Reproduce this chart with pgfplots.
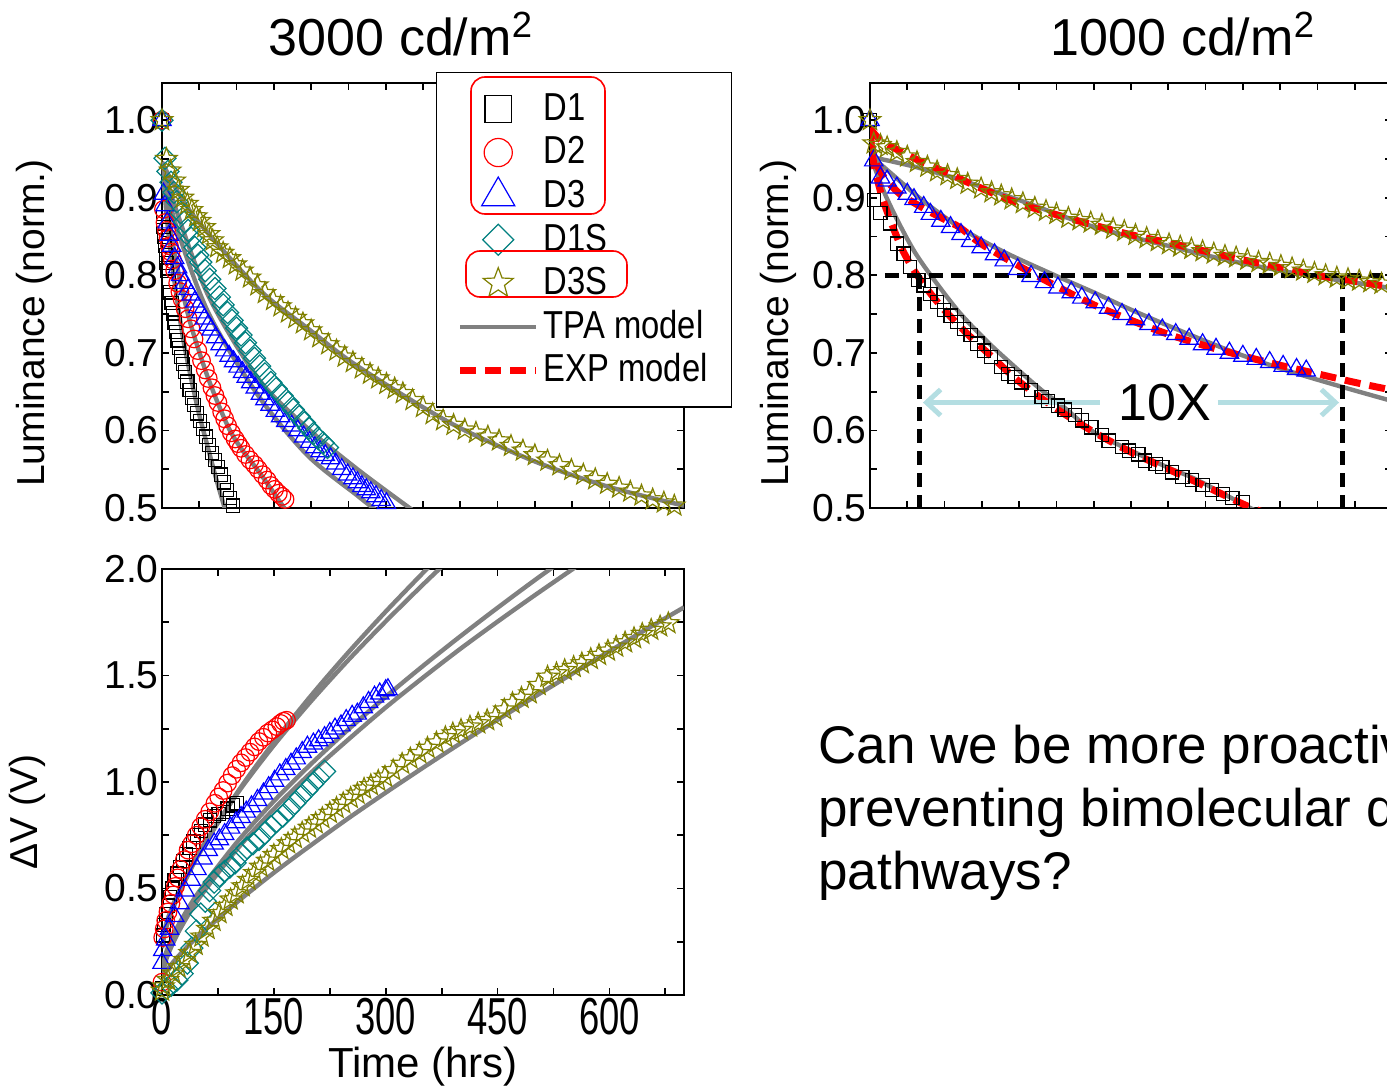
\documentclass[border=0pt]{standalone}
\usepackage{pgfplots}
\pgfplotsset{compat=1.18}
\usepackage{fontspec}
\setmainfont{Liberation Sans}
\newfontfamily\condfont[FakeStretch=0.7]{Liberation Sans}
\newfontfamily\legfont[FakeStretch=0.84]{Liberation Sans}
\usetikzlibrary{arrows.meta}
\definecolor{teal1}{RGB}{0,128,128}
\definecolor{olive1}{RGB}{128,128,0}
\definecolor{gray1}{RGB}{128,128,128}
\definecolor{lblue}{RGB}{180,222,226}
\pgfdeclareplotmark{ostar}{%
  \pgfpathmoveto{\pgfpointpolar{90}{\pgfplotmarksize}}%
  \pgfpathlineto{\pgfpointpolar{126}{0.42\pgfplotmarksize}}%
  \pgfpathlineto{\pgfpointpolar{162}{\pgfplotmarksize}}%
  \pgfpathlineto{\pgfpointpolar{198}{0.42\pgfplotmarksize}}%
  \pgfpathlineto{\pgfpointpolar{234}{\pgfplotmarksize}}%
  \pgfpathlineto{\pgfpointpolar{270}{0.42\pgfplotmarksize}}%
  \pgfpathlineto{\pgfpointpolar{306}{\pgfplotmarksize}}%
  \pgfpathlineto{\pgfpointpolar{342}{0.42\pgfplotmarksize}}%
  \pgfpathlineto{\pgfpointpolar{18}{\pgfplotmarksize}}%
  \pgfpathlineto{\pgfpointpolar{54}{0.42\pgfplotmarksize}}%
  \pgfpathclose\pgfusepathqstroke}
\newcommand\labfont{\fontsize{19.5}{22}\selectfont}
\pgfplotsset{
  myaxis/.style={
    scale only axis, width=261pt, xmin=0, xmax=700,
    tick align=inside, major tick length=3.5pt, minor tick length=3.5pt,
    tick style={black, line width=0.9pt},
    axis line style={line width=1pt},
    tick label style={font=\labfont},
    /pgf/number format/assume math mode=true,
    yticklabel style={inner sep=1.5pt, /pgf/number format/.cd, fixed, fixed zerofill, precision=1},
    legend image code/.code={\draw[mark repeat=2,mark phase=2,##1] plot coordinates {(0pt,0pt) (19pt,0pt) (38pt,0pt)};},
  },
  lumaxis/.style={myaxis, height=212.5pt, ymin=0.5, ymax=1.048,
    ytick={0.5,0.6,0.7,0.8,0.9,1.0}, minor ytick={0.55,0.65,0.75,0.85,0.95},
    xtick={0,50,...,700}, xticklabels={}},
  legmark/.style={legend image code/.code={\draw[mark repeat=2,mark phase=2,##1, every mark/.append style={scale=#1}] plot coordinates {(0pt,0pt) (19pt,0pt) (38pt,0pt)};}},
  sqm/.style={only marks, mark=square, mark size=3.3pt, black, mark options={line width=0.6pt}},
  cim/.style={only marks, mark=o, mark size=4.4pt, red, mark options={line width=0.6pt}},
  trm/.style={only marks, mark=triangle, mark size=5.3pt, blue, mark options={line width=0.6pt}},
  dim/.style={only marks, mark=square, mark size=3.9pt, teal1, mark options={rotate=45, line width=0.6pt}},
  stm/.style={only marks, mark=ostar, mark size=5.6pt, olive1, mark options={line width=0.6pt}},
  tpa/.style={no marks, smooth, gray1, line width=2.2pt},
  expm/.style={no marks, smooth, red, line width=3.5pt, dash pattern=on 8pt off 4.5pt},
}
\begin{document}
\begin{tikzpicture}
\useasboundingbox (0,0) rectangle (693.5pt,544.5pt);
\clip (0,0) rectangle (693.5pt,544.5pt);

% ---------------- top left: 3000 cd/m2 ----------------
\begin{axis}[lumaxis, at={(81pt,290.5pt)}, anchor=south west,
  ylabel={Luminance (norm.)}, ylabel style={at={(axis description cs:-0.245,0.435)}, anchor=center, font=\labfont},
  legend cell align=left,
  legend style={at={(axis description cs:0.525,1.026)}, anchor=north west,
    draw=black, line width=0.7pt, fill=white,
    font=\legfont\fontsize{19.5}{21}\selectfont,
    inner xsep=10pt, inner ysep=7.5pt, row sep=0.5pt,
    nodes={inner sep=2pt, text height=14.3pt, text depth=3pt},
    /tikz/every even column/.append style={column sep=3pt}},
]
\addplot[sqm, legmark=2.0] coordinates {(0,1.0)(1,0.875)(2,0.862)(3,0.85)(4,0.838)(5,0.826)(6,0.816)(7,0.806)(9,0.792)(11,0.778)(13,0.764)(15,0.751)(17,0.739)(19,0.727)(21,0.716)(23,0.706)(26,0.695)(28,0.686)(31,0.675)(34,0.663)(37,0.652)(40,0.642)(43,0.633)(47,0.622)(51,0.612)(55,0.602)(59,0.592)(63,0.581)(67,0.571)(71,0.562)(75,0.553)(79,0.543)(83,0.533)(87,0.523)(91,0.513)(95,0.503)};
\addlegendentry{D1}
\addplot[cim, legmark=1.6] coordinates {(0,1.0)(2,0.885)(4,0.868)(6,0.858)(8,0.848)(10,0.838)(12,0.83)(14,0.82)(17,0.806)(21,0.79)(24,0.779)(27,0.769)(31,0.757)(35,0.744)(39,0.731)(43,0.718)(48,0.703)(53,0.69)(58,0.678)(62,0.667)(67,0.655)(71,0.645)(75,0.636)(80,0.624)(84,0.615)(88,0.606)(93,0.597)(98,0.589)(102,0.583)(106,0.577)(112,0.569)(118,0.562)(124,0.556)(129,0.55)(135,0.543)(141,0.536)(146,0.529)(151,0.524)(156,0.519)(161,0.515)(165,0.511)};
\addlegendentry{D2}
\addplot[trm, legmark=1.8] coordinates {(0,1.0)(2,0.905)(4,0.89)(7,0.868)(10,0.852)(13,0.838)(17,0.822)(21,0.81)(25,0.8)(30,0.79)(35,0.782)(39,0.775)(44,0.766)(48,0.759)(52,0.752)(57,0.744)(62,0.736)(66,0.73)(72,0.72)(78,0.711)(84,0.703)(90,0.696)(96,0.689)(102,0.682)(108,0.675)(113,0.669)(119,0.662)(125,0.655)(132,0.647)(138,0.64)(145,0.633)(152,0.625)(159,0.618)(166,0.612)(174,0.606)(182,0.6)(190,0.592)(198,0.585)(205,0.578)(212,0.573)(219,0.568)(226,0.564)(233,0.557)(241,0.55)(249,0.543)(256,0.538)(262,0.533)(268,0.528)(274,0.524)(280,0.52)(287,0.515)(294,0.51)(301,0.506)};
\addlegendentry{D3}
\addplot[dim, legmark=1.4] coordinates {(0,1.0)(4,0.951)(8,0.934)(12,0.92)(16,0.907)(20,0.895)(25,0.881)(30,0.869)(35,0.858)(39,0.848)(44,0.836)(48,0.826)(52,0.817)(58,0.806)(64,0.795)(71,0.783)(77,0.772)(82,0.762)(88,0.752)(94,0.742)(100,0.732)(106,0.723)(112,0.713)(118,0.703)(124,0.693)(131,0.683)(138,0.673)(146,0.662)(153,0.654)(161,0.645)(169,0.636)(176,0.627)(184,0.618)(191,0.61)(197,0.603)(203,0.596)(209,0.59)(216,0.584)(222,0.578)};
\addlegendentry{D1S}
\addplot[stm, legmark=1.4] coordinates {(0,1.0)(6,0.95)(11,0.935)(17,0.922)(22,0.91)(28,0.9)(34,0.892)(40,0.884)(46,0.876)(51,0.87)(57,0.862)(63,0.853)(68,0.845)(74,0.836)(82,0.829)(91,0.822)(99,0.814)(108,0.806)(118,0.797)(128,0.787)(138,0.777)(149,0.768)(159,0.76)(169,0.752)(179,0.745)(189,0.738)(200,0.729)(211,0.72)(223,0.711)(234,0.703)(245,0.695)(256,0.688)(268,0.68)(279,0.673)(290,0.667)(301,0.66)(312,0.654)(323,0.648)(336,0.639)(350,0.63)(363,0.621)(377,0.613)(391,0.607)(406,0.601)(421,0.597)(437,0.592)(452,0.587)(468,0.58)(484,0.574)(500,0.568)(517,0.561)(533,0.555)(549,0.549)(565,0.543)(581,0.537)(597,0.531)(613,0.526)(628,0.521)(643,0.516)(658,0.511)(673,0.507)(687,0.503)};
\addlegendentry{D3S}
\addplot[tpa] coordinates {(0,0.946)(8,0.86)(17,0.79)(28,0.72)(39,0.667)(50,0.62)(61,0.58)(72,0.54)(84,0.5)(88,0.487)};
\addlegendentry{TPA model}
\addplot[tpa, forget plot] coordinates {(0,0.946)(12,0.855)(25,0.79)(39,0.735)(62,0.667)(88,0.606)(106,0.577)(129,0.548)(146,0.525)(164,0.5)(170,0.493)};
\addplot[tpa, forget plot] coordinates {(0,0.946)(17,0.87)(62,0.752)(129,0.645)(195,0.568)(262,0.516)(283,0.5)(290,0.495)};
\addplot[tpa, forget plot] coordinates {(0,0.946)(17,0.89)(62,0.774)(129,0.667)(195,0.603)(262,0.55)(332,0.5)(340,0.495)};
\addplot[tpa, forget plot] coordinates {(0,0.946)(39,0.881)(129,0.783)(195,0.732)(262,0.683)(386,0.61)(500,0.56)(600,0.527)(700,0.503)};
\addlegendimage{expm}
\addlegendentry{EXP model}
\end{axis}

% ---------------- top right: 1000 cd/m2 ----------------
\begin{axis}[lumaxis, at={(435pt,290.5pt)}, anchor=south west,
  ylabel={Luminance (norm.)}, ylabel style={at={(axis description cs:-0.176,0.435)}, anchor=center, font=\labfont}]
\addplot[sqm] coordinates {(0,1.0)(5,0.897)(14,0.88)(27,0.867)(36,0.841)(45,0.828)(54,0.811)(65,0.794)(72,0.787)(81,0.776)(90,0.766)(99,0.755)(108,0.748)(117,0.74)(126,0.731)(135,0.723)(144,0.712)(153,0.703)(162,0.695)(176,0.682)(185,0.673)(194,0.669)(203,0.662)(216,0.652)(230,0.643)(239,0.638)(252,0.632)(261,0.627)(275,0.62)(284,0.613)(297,0.604)(311,0.594)(320,0.587)(338,0.579)(347,0.574)(360,0.569)(369,0.561)(383,0.557)(392,0.553)(405,0.546)(419,0.54)(432,0.536)(446,0.53)(459,0.523)(473,0.518)(486,0.513)(500,0.508)};
\addplot[trm] coordinates {(0,1.0)(5,0.948)(14,0.926)(23,0.922)(36,0.913)(50,0.905)(59,0.898)(72,0.888)(81,0.879)(95,0.87)(108,0.862)(122,0.853)(135,0.844)(149,0.836)(167,0.827)(180,0.819)(198,0.808)(216,0.799)(234,0.791)(252,0.784)(270,0.778)(284,0.771)(302,0.765)(320,0.758)(338,0.75)(356,0.743)(374,0.737)(392,0.73)(410,0.724)(428,0.718)(446,0.711)(464,0.705)(482,0.7)(500,0.696)(518,0.692)(536,0.688)(554,0.683)(572,0.679)(585,0.677)};
\addplot[stm] coordinates {(0,1.0)(5,0.97)(14,0.968)(23,0.965)(36,0.959)(50,0.953)(63,0.946)(77,0.94)(90,0.934)(104,0.929)(117,0.924)(131,0.918)(149,0.912)(163,0.907)(176,0.903)(190,0.898)(205,0.893)(221,0.887)(236,0.883)(250,0.879)(266,0.874)(281,0.871)(296,0.868)(311,0.865)(326,0.86)(341,0.857)(356,0.852)(371,0.848)(386,0.844)(401,0.84)(416,0.837)(431,0.834)(446,0.831)(461,0.828)(476,0.825)(491,0.823)(506,0.82)(521,0.817)(536,0.815)(551,0.812)(566,0.809)(581,0.806)(596,0.803)(611,0.8)(626,0.797)(641,0.795)(656,0.793)(671,0.791)(686,0.789)};
\addplot[tpa] coordinates {(0,0.955)(20,0.905)(40,0.865)(60,0.83)(83,0.798)(120,0.752)(160,0.712)(200,0.677)(230,0.652)(260,0.63)(300,0.598)(350,0.574)(400,0.552)(437,0.537)(500,0.505)(530,0.49)};
\addplot[tpa] coordinates {(0,0.955)(30,0.93)(70,0.897)(120,0.862)(180,0.83)(248,0.8)(300,0.778)(347,0.757)(410,0.731)(482,0.703)(550,0.68)(630,0.657)(700,0.638)};
\addplot[tpa] coordinates {(0,0.953)(60,0.94)(122,0.923)(200,0.897)(302,0.862)(400,0.838)(482,0.819)(580,0.801)(689,0.785)(700,0.783)};
\addplot[expm] coordinates {(0,0.99)(3,0.958)(7,0.935)(15,0.905)(23,0.882)(35,0.852)(45,0.83)(60,0.805)(80,0.778)(100,0.755)(130,0.725)(160,0.698)(200,0.663)(250,0.628)(300,0.598)(350,0.572)(400,0.55)(450,0.528)(505,0.503)(540,0.49)};
\addplot[expm] coordinates {(0,0.975)(8,0.945)(20,0.925)(40,0.905)(60,0.893)(80,0.882)(100,0.872)(120,0.862)(150,0.84)(200,0.812)(250,0.786)(300,0.762)(350,0.742)(400,0.724)(450,0.709)(500,0.696)(550,0.684)(600,0.673)(650,0.662)(700,0.652)};
\addplot[expm] coordinates {(0,0.99)(10,0.978)(25,0.968)(45,0.958)(70,0.946)(99,0.934)(145,0.914)(199,0.893)(258,0.876)(303,0.864)(347,0.853)(400,0.842)(450,0.831)(505,0.819)(550,0.81)(594,0.801)(640,0.794)(685,0.787)(700,0.785)};
\addplot[black, no marks, line width=2.5pt, dash pattern=on 7pt off 4pt] coordinates {(20,0.8)(700,0.8)};
\addplot[black, no marks, line width=2.5pt, dash pattern=on 7pt off 4pt] coordinates {(67,0.8)(67,0.5)};
\addplot[black, no marks, line width=2.5pt, dash pattern=on 7pt off 4pt] coordinates {(633,0.8)(633,0.5)};
\draw[lblue, line width=2.5pt, -{Straight Barb[length=7pt,width=13pt]}] (axis cs:308,0.636) -- (axis cs:71,0.636);
\draw[lblue, line width=2.5pt, -{Straight Barb[length=7pt,width=13pt]}] (axis cs:466,0.636) -- (axis cs:629,0.636);
\node[font=\fontsize{26}{28}\selectfont] at (axis cs:395,0.636) {10X};
\end{axis}

% ---------------- bottom left: Delta V ----------------
\begin{axis}[myaxis, at={(81pt,47pt)}, anchor=south west, height=213pt,
  ymin=0, ymax=2, ytick={0,0.5,1,1.5,2}, minor ytick={0.25,0.75,1.25,1.75},
  xtick={0,150,300,450,600}, minor xtick={75,225,375,525,675},
  xticklabel style={font=\condfont\fontsize{26}{26}\selectfont, inner sep=1.5pt},
  xlabel={Time (hrs)}, xlabel style={at={(axis description cs:0.5,-0.168)}, anchor=center, font=\fontsize{21}{24}\selectfont},
  ylabel={ΔV (V)}, ylabel style={at={(axis description cs:-0.257,0.43)}, anchor=center, font=\labfont}]
\addplot[sqm] coordinates {(0,0.03)(1,0.28)(3,0.33)(5,0.38)(8,0.42)(11,0.46)(14,0.5)(17,0.54)(20,0.57)(24,0.6)(28,0.63)(32,0.66)(37,0.69)(42,0.72)(47,0.75)(52,0.77)(58,0.8)(64,0.82)(70,0.84)(76,0.85)(82,0.86)(88,0.875)(95,0.89)(100,0.9)};
\addplot[cim] coordinates {(0,0.06)(1,0.27)(3,0.31)(5,0.35)(8,0.39)(12,0.43)(15,0.47)(18,0.51)(21,0.55)(25,0.59)(30,0.635)(35,0.68)(40,0.71)(46,0.75)(52,0.79)(58,0.825)(64,0.86)(71,0.9)(76,0.93)(82,0.96)(88,0.995)(94,1.03)(100,1.06)(106,1.09)(112,1.115)(118,1.14)(124,1.165)(130,1.19)(136,1.21)(142,1.23)(148,1.245)(154,1.26)(159,1.275)(163,1.285)(167,1.29)};
\addplot[trm] coordinates {(0,0.15)(1,0.21)(5,0.26)(10,0.31)(17,0.37)(24,0.43)(31,0.49)(39,0.54)(47,0.59)(55,0.64)(62,0.68)(70,0.71)(77,0.73)(84,0.755)(92,0.785)(99,0.81)(106,0.835)(113,0.86)(120,0.885)(128,0.915)(136,0.945)(143,0.975)(151,1.005)(158,1.035)(166,1.06)(173,1.085)(180,1.11)(188,1.14)(195,1.165)(203,1.18)(210,1.195)(218,1.21)(225,1.23)(232,1.25)(240,1.265)(247,1.29)(255,1.31)(262,1.32)(270,1.35)(277,1.375)(285,1.4)(292,1.415)(300,1.43)(303,1.435)};
\addplot[dim] coordinates {(0,0.01)(6,0.03)(12,0.045)(20,0.07)(27,0.1)(34,0.15)(40,0.22)(46,0.3)(52,0.38)(58,0.44)(64,0.49)(70,0.53)(77,0.56)(84,0.58)(91,0.6)(98,0.62)(106,0.66)(114,0.69)(122,0.71)(130,0.73)(138,0.76)(146,0.79)(154,0.815)(162,0.84)(170,0.87)(178,0.9)(186,0.93)(194,0.96)(202,0.99)(210,1.02)(218,1.05)};
\addplot[stm] coordinates {(0,0.02)(2,0.04)(8,0.07)(15,0.1)(22,0.13)(30,0.164)(37,0.197)(45,0.235)(53,0.274)(61,0.31)(69,0.348)(77,0.384)(85,0.418)(92,0.448)(100,0.477)(108,0.51)(116,0.54)(124,0.572)(132,0.602)(141,0.63)(150,0.657)(160,0.685)(169,0.712)(178,0.737)(188,0.762)(197,0.785)(206,0.806)(215,0.83)(225,0.855)(234,0.878)(243,0.9)(253,0.925)(262,0.945)(271,0.968)(280,0.985)(290,1.005)(299,1.025)(310,1.055)(322,1.085)(333,1.11)(345,1.135)(356,1.16)(368,1.185)(380,1.21)(390,1.228)(401,1.244)(413,1.26)(424,1.275)(436,1.29)(447,1.307)(459,1.34)(470,1.37)(482,1.395)(493,1.416)(505,1.455)(517,1.494)(529,1.51)(540,1.525)(552,1.54)(563,1.557)(575,1.577)(586,1.596)(598,1.616)(609,1.635)(621,1.655)(633,1.675)(644,1.695)(656,1.714)(668,1.73)(679,1.745)};
\addplot[tpa] coordinates {(0,0.22)(5,0.307)(12,0.38)(25,0.492)(50,0.664)(100,0.946)(150,1.187)(200,1.406)(250,1.609)(300,1.8)(350,1.982)(360,2.017)};
\addplot[tpa] coordinates {(0,0.24)(5,0.326)(12,0.399)(25,0.506)(50,0.672)(100,0.941)(150,1.172)(200,1.38)(250,1.573)(300,1.754)(350,1.927)(380,2.027)};
\addplot[tpa] coordinates {(0,0.12)(5,0.194)(12,0.256)(25,0.347)(50,0.487)(100,0.715)(150,0.91)(200,1.085)(250,1.247)(300,1.4)(350,1.545)(400,1.684)(450,1.818)(500,1.948)(530,2.023)};
\addplot[tpa] coordinates {(0,0.08)(5,0.159)(12,0.222)(25,0.314)(50,0.456)(100,0.682)(150,0.873)(200,1.044)(250,1.2)(300,1.35)(350,1.49)(400,1.625)(450,1.753)(500,1.877)(560,2.022)};
\addplot[tpa] coordinates {(0,0.08)(5,0.11)(12,0.142)(25,0.194)(50,0.281)(100,0.434)(150,0.574)(200,0.704)(250,0.83)(300,0.95)(350,1.067)(400,1.181)(450,1.292)(500,1.401)(550,1.508)(600,1.614)(650,1.718)(700,1.82)};
\end{axis}

% legend highlight boxes
\draw[red, line width=0.8pt, rounded corners=7pt] (235.5pt,437.5pt) rectangle (302.5pt,506pt);
\draw[red, line width=0.8pt, rounded corners=7pt] (233pt,396pt) rectangle (313.5pt,419pt);

% titles
\node[anchor=base, font=\fontsize{26}{28}\selectfont] at (200.5pt,516.5pt) {3000 cd/m\textsuperscript{2}};
\node[anchor=base, font=\fontsize{26}{28}\selectfont] at (591.5pt,516.5pt) {1000 cd/m\textsuperscript{2}};

% question text
\node[anchor=base west, inner sep=0pt, font=\fontsize{26.5}{29}\selectfont] at (409pt,163pt) {Can we be more proactive in};
\node[anchor=base west, inner sep=0pt, font=\fontsize{26.5}{29}\selectfont] at (409pt,131.5pt) {preventing bimolecular degradation};
\node[anchor=base west, inner sep=0pt, font=\fontsize{26.5}{29}\selectfont] at (409pt,100pt) {pathways?};
\end{tikzpicture}
\end{document}
